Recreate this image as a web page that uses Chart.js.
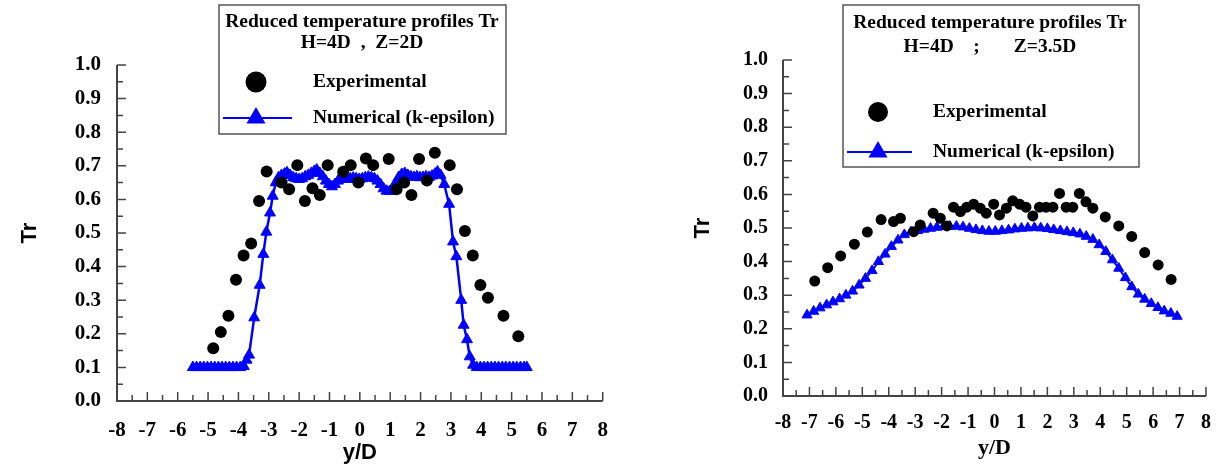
<!DOCTYPE html>
<html>
<head>
<meta charset="utf-8">
<script src="https://cdn.jsdelivr.net/npm/chart.js@4.4.1/dist/chart.umd.min.js"></script>
<style>
  html, body { margin: 0; padding: 0; background: #fff; overflow: hidden; }
  #wrap { position: relative; width: 1216px; height: 466px; }
  canvas { position: absolute; top: 0; }
  #left { left: 0; }
  #right { left: 610px; }
</style>
</head>
<body>
<div id="wrap">
  <canvas id="left" width="610" height="466"></canvas>
  <canvas id="right" width="606" height="466"></canvas>
</div>
<script>
// tick values shared by both panels
const xTickValues = [-8, -7, -6, -5, -4, -3, -2, -1, 0, 1, 2, 3, 4, 5, 6, 7, 8];
const yTickValues = [0, 0.1, 0.2, 0.3, 0.4, 0.5, 0.6, 0.7, 0.8, 0.9, 1.0];

const seriesLabels = ['Experimental', 'Numerical (k-epsilon)'];

// left panel : H=4D , Z=2D
const leftTitleLines = ['Reduced temperature profiles Tr', 'H=4D  ,  Z=2D'];
const leftExpX = [-4.83, -4.58, -4.33, -4.08, -3.83, -3.58, -3.32, -3.07, -2.58, -2.33, -2.06, -1.81, -1.56, -1.32,
  -1.06, -0.55, -0.3, -0.05, 0.2, 0.44, 0.95, 1.21, 1.46, 1.7, 1.95, 2.21, 2.47, 2.96, 3.2, 3.46, 3.72, 3.97, 4.22, 4.73, 5.22];
const leftExpY = [0.157, 0.205, 0.254, 0.361, 0.433, 0.469, 0.595, 0.683, 0.65, 0.63, 0.702, 0.595, 0.633, 0.613,
  0.702, 0.682, 0.702, 0.65, 0.722, 0.702, 0.72, 0.63, 0.65, 0.613, 0.72, 0.656, 0.739, 0.702, 0.63, 0.506, 0.433, 0.345, 0.307, 0.254, 0.193];
const leftNumX = [-5.5, -5.38, -5.26, -5.14, -5.02, -4.9, -4.78, -4.66, -4.54, -4.42, -4.3, -4.18, -4.06, -3.94, -3.82,
  -3.73, -3.65, -3.48, -3.3, -3.18, -3.08, -2.96, -2.87, -2.77, -2.68, -2.58, -2.48, -2.4, -2.3, -2.2, -2.1, -2.0,
  -1.9, -1.8, -1.7, -1.6, -1.5, -1.42, -1.32, -1.22, -1.12, -1.02, -0.92, -0.82, -0.72, -0.62, -0.52, -0.42, -0.32,
  -0.22, -0.12, -0.02, 0.08, 0.18, 0.28, 0.38, 0.48, 0.58, 0.68, 0.78, 0.88, 0.98, 1.08, 1.18, 1.28, 1.38, 1.48,
  1.58, 1.68, 1.78, 1.88, 1.98, 2.08, 2.18, 2.28, 2.38, 2.48, 2.56, 2.66, 2.78, 2.94, 3.07, 3.18, 3.34, 3.42, 3.53,
  3.62, 3.73, 3.85, 3.97, 4.09, 4.21, 4.33, 4.45, 4.57, 4.69, 4.81, 4.93, 5.05, 5.17, 5.29, 5.41, 5.5];
const leftNumY = [0.1, 0.1, 0.1, 0.1, 0.1, 0.1, 0.1, 0.1, 0.1, 0.1, 0.1, 0.1, 0.1, 0.1, 0.103,
  0.122, 0.137, 0.248, 0.345, 0.437, 0.503, 0.56, 0.61, 0.65, 0.665, 0.672, 0.676, 0.68, 0.672, 0.665, 0.662, 0.66,
  0.662, 0.668, 0.672, 0.678, 0.684, 0.688, 0.678, 0.668, 0.655, 0.645, 0.638, 0.645, 0.655, 0.66, 0.662, 0.66, 0.662,
  0.664, 0.662, 0.66, 0.662, 0.665, 0.667, 0.665, 0.662, 0.655, 0.645, 0.632, 0.625, 0.624, 0.632, 0.65, 0.666, 0.675, 0.678,
  0.672, 0.668, 0.666, 0.668, 0.665, 0.666, 0.668, 0.666, 0.67, 0.676, 0.682, 0.672, 0.645, 0.586, 0.474, 0.43, 0.3, 0.226, 0.183,
  0.132, 0.107, 0.1, 0.1, 0.1, 0.1, 0.1, 0.1, 0.1, 0.1, 0.1, 0.1, 0.1, 0.1, 0.1, 0.1, 0.1];

// right panel : H=4D ; Z=3.5D
const rightTitleLines = ['Reduced temperature profiles Tr', 'H=4D    ;       Z=3.5D'];
const rightExpX = [-6.8, -6.31, -5.82, -5.3, -4.81, -4.29, -3.82, -3.56, -3.06, -2.81, -2.32, -2.05, -1.8, -1.55,
  -1.29, -1.05, -0.79, -0.54, -0.31, -0.03, 0.19, 0.45, 0.69, 0.95, 1.19, 1.45, 1.7, 1.95, 2.21, 2.46, 2.71, 2.96,
  3.21, 3.46, 3.72, 4.19, 4.7, 5.19, 5.68, 6.19, 6.68];
const rightExpY = [0.342, 0.382, 0.417, 0.452, 0.488, 0.525, 0.519, 0.529, 0.489, 0.509, 0.544, 0.529, 0.506, 0.562,
  0.549, 0.562, 0.571, 0.559, 0.544, 0.571, 0.539, 0.559, 0.581, 0.571, 0.562, 0.536, 0.562, 0.562, 0.562, 0.603, 0.562, 0.562,
  0.603, 0.578, 0.559, 0.533, 0.506, 0.475, 0.427, 0.39, 0.347];
const rightNumX = [-7.09, -6.84, -6.6, -6.35, -6.11, -5.86, -5.62, -5.37, -5.12, -4.88, -4.63, -4.39, -4.14, -3.9, -3.65,
  -3.41, -3.16, -2.91, -2.67, -2.42, -2.18, -1.93, -1.69, -1.44, -1.19, -0.95, -0.7, -0.46, -0.21, 0.03, 0.28, 0.53, 0.77,
  1.02, 1.26, 1.51, 1.75, 2.0, 2.24, 2.49, 2.74, 2.98, 3.23, 3.47, 3.72, 3.96, 4.21, 4.46, 4.7, 4.95, 5.19, 5.44, 5.68, 5.93,
  6.18, 6.42, 6.67, 6.91];
const rightNumY = [0.241, 0.252, 0.262, 0.271, 0.28, 0.289, 0.3, 0.312, 0.33, 0.35, 0.373, 0.4, 0.422, 0.445, 0.464,
  0.48, 0.488, 0.492, 0.496, 0.499, 0.502, 0.504, 0.505, 0.505, 0.503, 0.499, 0.495, 0.492, 0.49, 0.49, 0.492, 0.494, 0.497,
  0.499, 0.5, 0.501, 0.5, 0.498, 0.495, 0.492, 0.489, 0.486, 0.482, 0.475, 0.466, 0.45, 0.43, 0.405, 0.38, 0.352, 0.325, 0.303,
  0.288, 0.275, 0.263, 0.253, 0.246, 0.237];

const BLUE = '#0000ff';
const AXIS = '#444';

const zip = (xs, ys) => xs.map((x, i) => ({ x, y: ys[i] }));

// axis lines with inward major/minor ticks
const axisPlugin = {
  id: 'axisTicks',
  beforeDatasetsDraw(chart) {
    const { ctx, scales: { x, y } } = chart;
    const xa = x.getPixelForValue(xTickValues[0]);
    const xb = x.getPixelForValue(xTickValues[xTickValues.length - 1]);
    const ya = y.getPixelForValue(yTickValues[0]);
    const yb = y.getPixelForValue(yTickValues[yTickValues.length - 1]);
    ctx.save();
    ctx.strokeStyle = AXIS;
    ctx.lineWidth = 2;
    ctx.beginPath();
    ctx.moveTo(xa, yb);
    ctx.lineTo(xa, ya);
    ctx.lineTo(xb, ya);
    ctx.stroke();
    ctx.lineWidth = 1.5;
    ctx.beginPath();
    xTickValues.forEach((v, i) => {
      const px = x.getPixelForValue(v);
      ctx.moveTo(px, ya); ctx.lineTo(px, ya - 9);
      if (i > 0) {
        const m = x.getPixelForValue((v + xTickValues[i - 1]) / 2);
        ctx.moveTo(m, ya); ctx.lineTo(m, ya - 6);
      }
    });
    yTickValues.forEach((v, i) => {
      const py = y.getPixelForValue(v);
      ctx.moveTo(xa, py); ctx.lineTo(xa + 9, py);
      if (i > 0) {
        const m = y.getPixelForValue((v + yTickValues[i - 1]) / 2);
        ctx.moveTo(xa, m); ctx.lineTo(xa + 6, m);
      }
    });
    ctx.stroke();
    ctx.restore();
  }
};

// boxed title + legend
const legendBoxPlugin = {
  id: 'legendBox',
  afterDraw(chart, args, o) {
    const ctx = chart.ctx;
    const [l, t, r, b] = o.rect;
    const ds = chart.data.datasets;
    ctx.save();
    ctx.fillStyle = '#fff';
    ctx.fillRect(l, t, r - l, b - t);
    ctx.strokeStyle = '#555';
    ctx.lineWidth = 1.5;
    ctx.strokeRect(l, t, r - l, b - t);
    ctx.fillStyle = '#000';
    ctx.font = `bold ${o.size}px "Liberation Serif", "Times New Roman", serif`;
    ctx.textBaseline = 'middle';
    ctx.textAlign = 'center';
    o.lines.forEach((text, i) => ctx.fillText(text, o.titleX, o.titleY[i]));
    // circle marker
    ctx.beginPath();
    ctx.arc(o.markX, o.expY, o.circleR, 0, Math.PI * 2);
    ctx.fill();
    // line + triangle marker
    ctx.strokeStyle = BLUE;
    ctx.lineWidth = 2;
    ctx.beginPath();
    ctx.moveTo(o.lineX[0], o.numY);
    ctx.lineTo(o.lineX[1], o.numY);
    ctx.stroke();
    const tr = o.triR;
    ctx.fillStyle = BLUE;
    ctx.beginPath();
    ctx.moveTo(o.markX, o.numY - tr);
    ctx.lineTo(o.markX + tr * 0.866, o.numY + tr / 2);
    ctx.lineTo(o.markX - tr * 0.866, o.numY + tr / 2);
    ctx.closePath();
    ctx.fill();
    ctx.fillStyle = '#000';
    ctx.textAlign = 'left';
    ctx.fillText(ds[0].label, o.textX, o.expY);
    ctx.fillText(ds[1].label, o.textX, o.numY);
    ctx.restore();
  }
};

function makeChart(id, o) {
  const tickFont = { family: '"Liberation Serif", "Times New Roman", serif', weight: 'bold', size: o.tickSize };
  // invisible tick marks give the label offset without widening the side padding
  const hiddenGrid = (len) => ({ display: true, drawOnChartArea: false, drawTicks: true, tickLength: len, color: 'rgba(0,0,0,0)' });
  return new Chart(document.getElementById(id), {
    type: 'scatter',
    data: {
      datasets: [
        {
          label: seriesLabels[0],
          data: zip(o.expX, o.expY),
          showLine: false,
          pointStyle: 'circle',
          pointRadius: o.circleR,
          backgroundColor: '#000',
          borderColor: '#000',
          borderWidth: 0,
          order: 0
        },
        {
          label: seriesLabels[1],
          data: zip(o.numX, o.numY),
          showLine: true,
          borderColor: BLUE,
          borderWidth: o.lineW,
          tension: 0,
          pointStyle: 'triangle',
          pointRadius: o.triR,
          pointBackgroundColor: BLUE,
          pointBorderColor: BLUE,
          pointBorderWidth: 1,
          order: 1
        }
      ]
    },
    options: {
      responsive: false,
      animation: false,
      events: [],
      layout: { padding: { top: o.top, right: o.right, left: 0, bottom: 0 } },
      plugins: {
        legend: { display: false },
        tooltip: { enabled: false },
        legendBox: o.box
      },
      scales: {
        x: {
          type: 'linear',
          min: xTickValues[0],
          max: xTickValues[xTickValues.length - 1],
          afterBuildTicks: s => { s.ticks = xTickValues.map(v => ({ value: v })); },
          afterFit: s => { s.height = o.xH; },
          grid: hiddenGrid(o.xPad),
          border: { display: false },
          ticks: { font: tickFont, color: '#000', padding: 0, autoSkip: false, maxRotation: 0, callback: v => String(v) },
          title: { display: true, text: 'y/D', color: '#000', font: o.xTitleFont, padding: { top: 0, bottom: o.xTitlePad } }
        },
        y: {
          type: 'linear',
          min: yTickValues[0],
          max: yTickValues[yTickValues.length - 1],
          afterBuildTicks: s => { s.ticks = yTickValues.map(v => ({ value: v })); },
          afterFit: s => { s.width = o.yW; },
          grid: hiddenGrid(o.yPad),
          border: { display: false },
          ticks: { font: tickFont, color: '#000', padding: 0, autoSkip: false, callback: v => Number(v).toFixed(1) },
          title: { display: true, text: 'Tr', color: '#000', font: { family: '"Liberation Sans", Arial, sans-serif', weight: 'bold', size: 22 }, padding: { top: o.yTitlePad, bottom: 0 } }
        }
      }
    },
    plugins: [axisPlugin, legendBoxPlugin]
  });
}

makeChart('left', {
  expX: leftExpX, expY: leftExpY, numX: leftNumX, numY: leftNumY,
  circleR: 6, triR: 6.3, lineW: 2.5, tickSize: 21,
  top: 65, right: 7, yW: 117, xH: 65, xPad: 17, yPad: 16, yTitlePad: 17, xTitlePad: 0,
  xTitleFont: { family: '"Liberation Sans", Arial, sans-serif', weight: 'bold', size: 22 },
  box: {
    rect: [219, 5, 506, 134], size: 19.5,
    lines: leftTitleLines, titleX: 362, titleY: [22, 43],
    markX: 256, circleR: 10.5, expY: 82, numY: 118, lineX: [223, 292], triR: 11, textX: 313
  }
});

makeChart('right', {
  expX: rightExpX, expY: rightExpY, numX: rightNumX, numY: rightNumY,
  circleR: 5.5, triR: 5.8, lineW: 2, tickSize: 20,
  top: 60, right: 10, yW: 173, xH: 70, xPad: 15, yPad: 15, yTitlePad: 80, xTitlePad: 4,
  xTitleFont: { family: '"Liberation Serif", "Times New Roman", serif', weight: 'bold', size: 22 },
  box: {
    rect: [233, 5, 529, 167], size: 19.5,
    lines: rightTitleLines, titleX: 380, titleY: [23, 47],
    markX: 268, circleR: 10, expY: 112, numY: 152, lineX: [237, 302], triR: 11, textX: 323
  }
});
</script>
</body>
</html>
